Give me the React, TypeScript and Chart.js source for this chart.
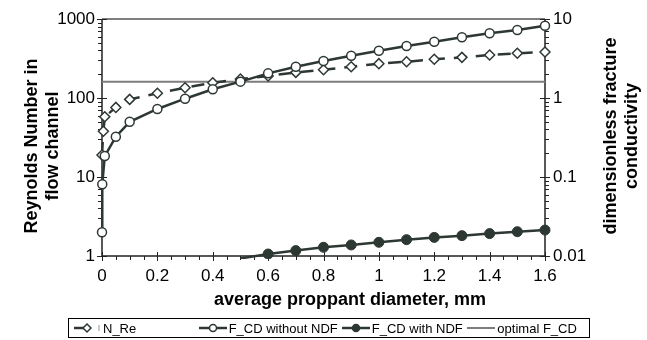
import React, { useEffect, useRef } from 'react';
import { Chart, registerables } from 'chart.js';

Chart.register(...registerables);

// ---- data ----
const reDiameter = [0, 0.005, 0.01, 0.05, 0.1, 0.2, 0.3, 0.4, 0.5, 0.6, 0.7, 0.8, 0.9, 1.0, 1.1, 1.2, 1.3, 1.4, 1.5, 1.6];
const reynoldsNumber = [19, 38, 58, 76, 96, 115, 135, 156, 174, 190, 211, 228, 249, 272, 288, 309, 327, 350, 368, 382];

const fcdDiameter = [0, 0.001, 0.01, 0.05, 0.1, 0.2, 0.3, 0.4, 0.5, 0.6, 0.7, 0.8, 0.9, 1.0, 1.1, 1.2, 1.3, 1.4, 1.5, 1.6];
const fcdWithoutNdf = [0.02, 0.081, 0.184, 0.324, 0.5, 0.726, 0.98, 1.29, 1.61, 2.05, 2.49, 2.94, 3.43, 3.97, 4.55, 5.16, 5.86, 6.59, 7.26, 8.22];

const ndfDiameter = [0.5, 0.6, 0.7, 0.8, 0.9, 1.0, 1.1, 1.2, 1.3, 1.4, 1.5, 1.6];
const fcdWithNdf = [0.0093, 0.0106, 0.0117, 0.0129, 0.0138, 0.0149, 0.0161, 0.0172, 0.0181, 0.0192, 0.0203, 0.0213];

const optimalDiameter = [0, 1.6];
const optimalFcd = [1.6, 1.6];

const xTickValues = [0, 0.2, 0.4, 0.6, 0.8, 1.0, 1.2, 1.4, 1.6];
const leftTickValues = [1, 10, 100, 1000];
const rightTickValues = [0.01, 0.1, 1, 10];

const seriesNames = ['N_Re', 'F_CD without NDF', 'F_CD with NDF', 'optimal F_CD'];
const xTitle = 'average proppant diameter, mm';
const leftTitle = ['Reynolds Number in', 'flow channel'];
const rightTitle = ['dimensionless fracture', 'conductivity'];

// ---- styles ----
const FONT = '"Liberation Sans", Arial, sans-serif';
const DARK = '#2d3833';
const OPT = '#7d7d7d';
const AXIS = '#222';

const zip = (xs: number[], ys: number[]) => xs.map((x, i) => ({ x, y: ys[i] }));

const decorPlugin = {
  id: 'decor',
  beforeDatasetsDraw(chart: any) {
    const { ctx, chartArea: a, scales } = chart;
    const xs = scales.x, yl = scales.y, yr = scales.y1;
    ctx.save();
    // frame
    ctx.strokeStyle = '#555';
    ctx.lineWidth = 1.5;
    ctx.beginPath();
    ctx.moveTo(a.left, a.top);
    ctx.lineTo(a.right, a.top);
    ctx.stroke();
    ctx.strokeStyle = AXIS;
    ctx.beginPath();
    ctx.moveTo(a.left, a.top);
    ctx.lineTo(a.left, a.bottom);
    ctx.lineTo(a.right, a.bottom);
    ctx.lineTo(a.right, a.top);
    ctx.stroke();
    ctx.lineWidth = 1;
    // x ticks
    for (let i = 0; i <= 32; i++) {
      const v = i * 0.05;
      const px = Math.round(xs.getPixelForValue(v)) + 0.5;
      ctx.beginPath();
      if (i % 4 === 0) {
        ctx.moveTo(px, a.bottom - 4);
        ctx.lineTo(px, a.bottom + 5);
      } else {
        ctx.moveTo(px, a.bottom);
        ctx.lineTo(px, a.bottom + 4);
      }
      ctx.stroke();
    }
    // log ticks
    const logTicks = (scale: any, decades: number[], x: number, dir: number) => {
      decades.forEach((d, idx) => {
        const py = Math.round(scale.getPixelForValue(d)) + 0.5;
        ctx.beginPath();
        ctx.moveTo(x - 5, py);
        ctx.lineTo(x + 5, py);
        ctx.stroke();
        if (idx < decades.length - 1) {
          for (let m = 2; m <= 9; m++) {
            const my = Math.round(scale.getPixelForValue(d * m)) + 0.5;
            ctx.beginPath();
            ctx.moveTo(x, my);
            ctx.lineTo(x + dir * 4, my);
            ctx.stroke();
          }
        }
      });
    };
    logTicks(yl, leftTickValues, a.left, -1);
    logTicks(yr, rightTickValues, a.right, 1);

    // titles
    ctx.fillStyle = '#000';
    ctx.font = 'bold 18px ' + FONT;
    ctx.textAlign = 'center';
    ctx.textBaseline = 'middle';
    ctx.fillText(xTitle, 350, 300);
    ctx.save();
    ctx.translate(32, 146);
    ctx.rotate(-Math.PI / 2);
    leftTitle.forEach((t, i) => ctx.fillText(t, 0, i * 21));
    ctx.restore();
    ctx.save();
    ctx.translate(611, 136);
    ctx.rotate(-Math.PI / 2);
    rightTitle.forEach((t, i) => ctx.fillText(t, 0, i * 21));
    ctx.restore();
    ctx.restore();
  },
};

function LegendSymbol({ kind }: { kind: number }) {
  if (kind === 0) {
    return (
      <svg width="30" height="12">
        <line x1="2" y1="6" x2="13" y2="6" stroke={DARK} strokeWidth="2.5" />
        <polygon points="15,2 19,6 15,10 11,6" fill="#fff" stroke={DARK} strokeWidth="1.5" />
        <line x1="27" y1="3" x2="27" y2="9" stroke="#999" strokeWidth="1" />
      </svg>
    );
  }
  if (kind === 1 || kind === 2) {
    return (
      <svg width="30" height="12">
        <line x1="1" y1="6" x2="29" y2="6" stroke={DARK} strokeWidth="2.5" />
        <circle cx="15" cy="6" r="3.5" fill={kind === 1 ? '#fff' : DARK} stroke={DARK} strokeWidth="1.5" />
      </svg>
    );
  }
  return (
    <svg width="30" height="12">
      <line x1="1" y1="6" x2="29" y2="6" stroke={OPT} strokeWidth="2" />
    </svg>
  );
}

export default function App() {
  const ref = useRef<HTMLCanvasElement | null>(null);

  useEffect(() => {
    document.body.style.margin = '0';
    const canvas = ref.current;
    if (!canvas) return;
    Chart.defaults.font.family = FONT;
    const chart = new Chart(canvas, {
      type: 'line',
      data: {
        datasets: [
          {
            label: seriesNames[0],
            data: zip(reDiameter, reynoldsNumber),
            yAxisID: 'y',
            borderColor: DARK,
            borderWidth: 2.5,
            borderDash: [13, 9],
            pointStyle: 'rectRot',
            pointRadius: 5,
            pointBorderWidth: 1.5,
            pointBackgroundColor: '#fff',
            pointBorderColor: DARK,
            clip: false as any,
            order: 2,
          },
          {
            label: seriesNames[1],
            data: zip(fcdDiameter, fcdWithoutNdf),
            yAxisID: 'y1',
            borderColor: DARK,
            borderWidth: 2.5,
            pointStyle: 'circle',
            pointRadius: 4.5,
            pointBorderWidth: 1.5,
            pointBackgroundColor: '#fff',
            pointBorderColor: DARK,
            clip: false as any,
            order: 1,
          },
          {
            label: seriesNames[2],
            data: zip(ndfDiameter, fcdWithNdf),
            yAxisID: 'y1',
            borderColor: DARK,
            borderWidth: 2.5,
            pointStyle: 'circle',
            pointRadius: (c: any) => (c.raw && c.raw.y < 0.01 ? 0 : 5),
            pointBorderWidth: 1,
            pointBackgroundColor: DARK,
            pointBorderColor: DARK,
            clip: { left: false, right: false, top: false, bottom: 3 } as any,
            order: 1,
          },
          {
            label: seriesNames[3],
            data: zip(optimalDiameter, optimalFcd),
            yAxisID: 'y1',
            borderColor: OPT,
            borderWidth: 2,
            pointRadius: 0,
            order: 3,
          },
        ],
      },
      options: {
        animation: false,
        responsive: false,
        maintainAspectRatio: false,
        layout: { padding: { top: 19, left: 0, right: 0, bottom: 0 } },
        plugins: { legend: { display: false }, tooltip: { enabled: false } },
        elements: { line: { tension: 0 } },
        scales: {
          x: {
            type: 'linear',
            min: 0,
            max: 1.6,
            grid: { display: false, drawTicks: false },
            border: { display: false },
            afterBuildTicks: (s: any) => {
              s.ticks = xTickValues.map((v) => ({ value: v }));
            },
            afterFit: (s: any) => {
              s.height = 84;
            },
            ticks: {
              color: '#000',
              font: { size: 17 },
              padding: 10,
              maxRotation: 0,
              autoSkip: false,
              callback: (v: any) => String(Math.round(Number(v) * 10) / 10),
            },
          },
          y: {
            type: 'logarithmic',
            position: 'left',
            min: 1,
            max: 1000,
            grid: { display: false, drawTicks: false },
            border: { display: false },
            afterBuildTicks: (s: any) => {
              s.ticks = leftTickValues.map((v) => ({ value: v }));
            },
            afterFit: (s: any) => {
              s.width = 102;
            },
            ticks: {
              color: '#000',
              font: { size: 17 },
              padding: 7,
              autoSkip: false,
              callback: (v: any) => String(v),
            },
          },
          y1: {
            type: 'logarithmic',
            position: 'right',
            min: 0.01,
            max: 10,
            grid: { display: false, drawTicks: false },
            border: { display: false },
            afterBuildTicks: (s: any) => {
              s.ticks = rightTickValues.map((v) => ({ value: v }));
            },
            afterFit: (s: any) => {
              s.width = 102;
            },
            ticks: {
              color: '#000',
              font: { size: 17 },
              padding: 8,
              autoSkip: false,
              callback: (v: any) => String(v),
            },
          },
        },
      },
      plugins: [decorPlugin],
    } as any);
    return () => chart.destroy();
  }, []);

  return (
    <div style={{ position: 'absolute', left: 0, top: 0, width: 647, height: 340, background: '#fff' }}>
      <canvas ref={ref} width={647} height={340} style={{ position: 'absolute', left: 0, top: 0, width: 647, height: 340 }} />
      <div
        style={{
          position: 'absolute',
          left: 68,
          top: 318,
          width: 522,
          height: 20,
          boxSizing: 'border-box',
          border: '1px solid #000',
          display: 'flex',
          alignItems: 'center',
          fontFamily: FONT,
          fontSize: 13,
          color: '#000',
        }}
      >
        {seriesNames.map((n, i) => (
          <div key={n} style={{ flex: 1, display: 'flex', alignItems: 'center', paddingLeft: 3, whiteSpace: 'nowrap' }}>
            <LegendSymbol kind={i} />
            <span style={{ marginLeft: 1 }}>{n}</span>
          </div>
        ))}
      </div>
    </div>
  );
}
